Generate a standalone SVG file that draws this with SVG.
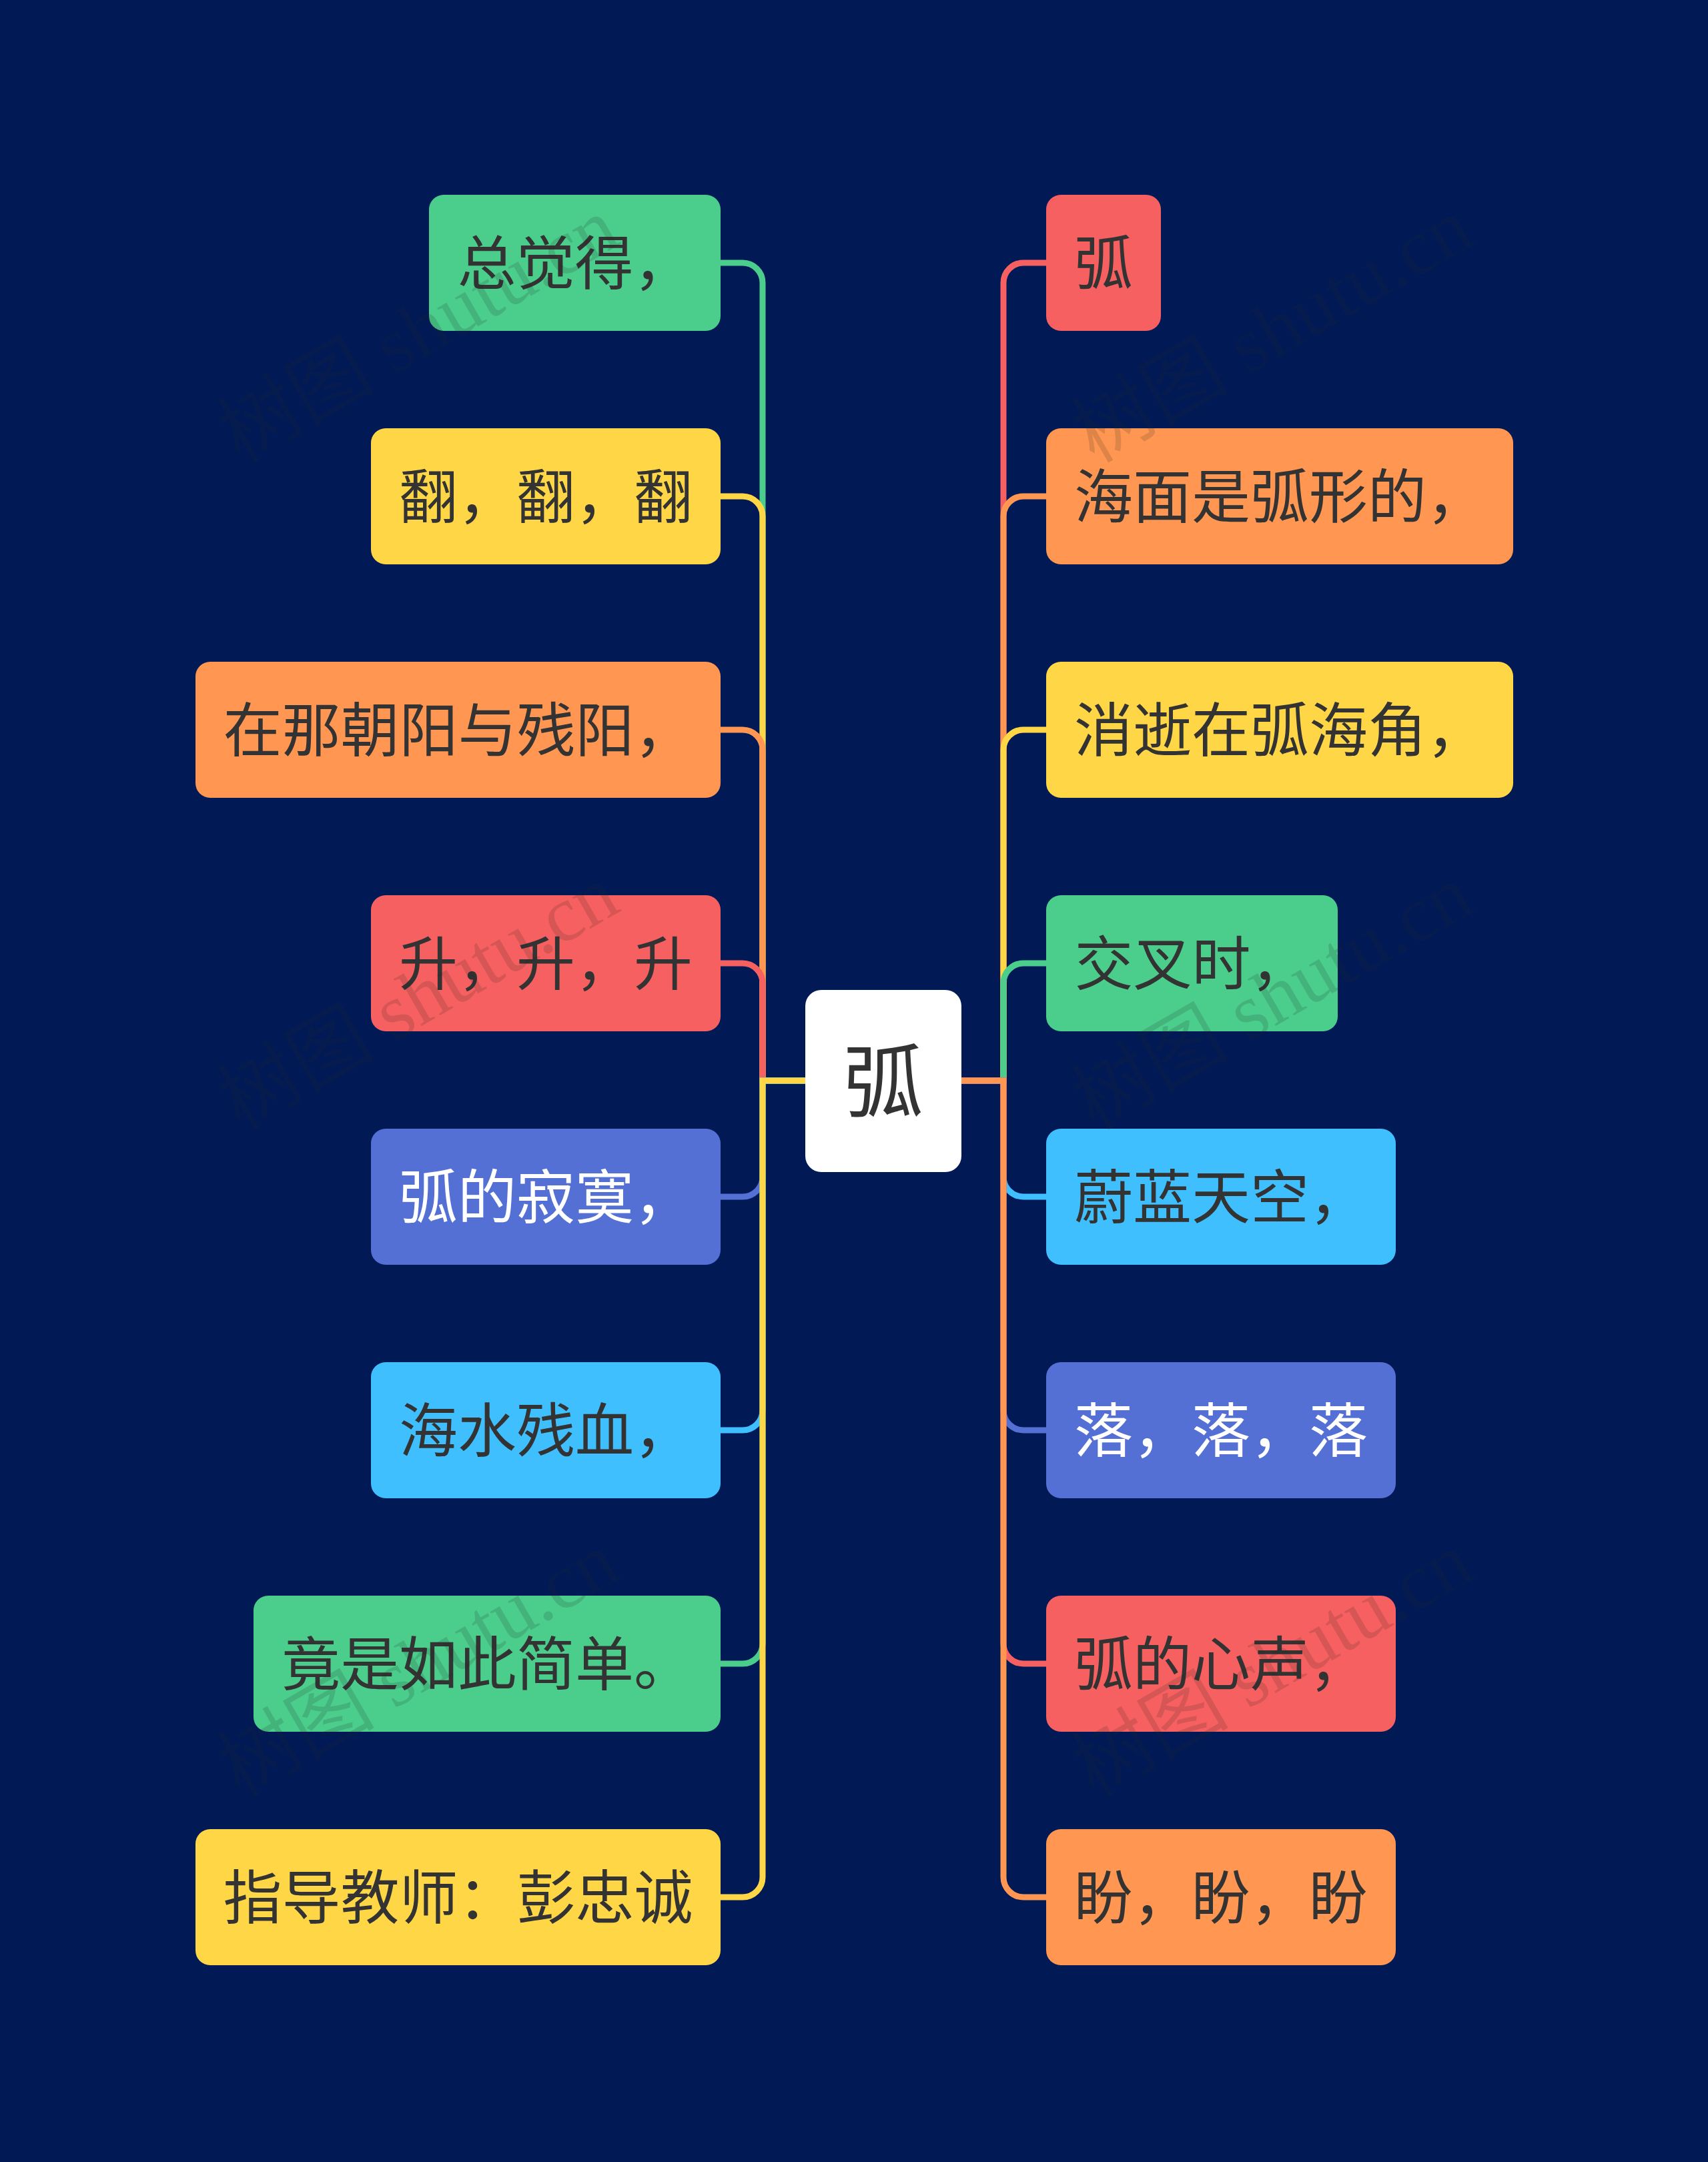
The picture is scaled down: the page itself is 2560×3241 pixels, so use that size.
<svg xmlns="http://www.w3.org/2000/svg" width="2560" height="3241" viewBox="0 0 2560 3241">
<style>
.c{fill:none;stroke-width:9;stroke-linejoin:miter;stroke-linecap:butt}
.t{font-family:"Noto Sans CJK SC","Noto Sans CJK JP",sans-serif;font-size:88px;fill:#333333;text-anchor:middle}
.w{fill:#ffffff}
.wm{font-family:"Liberation Serif","Noto Sans CJK SC",serif;font-size:118px;fill:#222222;opacity:0.15}
.gr{fill:#4BCE8C}.ye{fill:#FFD645}.or{fill:#FF9651}.re{fill:#F76060}.bl{fill:#5570D5}.lb{fill:#40BFFF}
.sgr{stroke:#4BCE8C}.sye{stroke:#FFD645}.sor{stroke:#FF9651}.sre{stroke:#F76060}.sbl{stroke:#5570D5}.slb{stroke:#40BFFF}
</style>
<rect x="0" y="0" width="2560" height="3241" fill="#011A56"/>
<g id="connectors">
<path class="c sgr" d="M1207 1620H1143V424A30 30 0 0 0 1113 394H1080"/>
<path class="c sye" d="M1207 1620H1143V774A30 30 0 0 0 1113 744H1080"/>
<path class="c sor" d="M1207 1620H1143V1124A30 30 0 0 0 1113 1094H1080"/>
<path class="c sre" d="M1207 1620H1143V1474A30 30 0 0 0 1113 1444H1080"/>
<path class="c sbl" d="M1207 1620H1143V1764A30 30 0 0 1 1113 1794H1080"/>
<path class="c slb" d="M1207 1620H1143V2114A30 30 0 0 1 1113 2144H1080"/>
<path class="c sgr" d="M1207 1620H1143V2464A30 30 0 0 1 1113 2494H1080"/>
<path class="c sye" d="M1207 1620H1143V2814A30 30 0 0 1 1113 2844H1080"/>
<path class="c sre" d="M1441 1620H1504V424A30 30 0 0 1 1534 394H1568"/>
<path class="c sor" d="M1441 1620H1504V774A30 30 0 0 1 1534 744H1568"/>
<path class="c sye" d="M1441 1620H1504V1124A30 30 0 0 1 1534 1094H1568"/>
<path class="c sgr" d="M1441 1620H1504V1474A30 30 0 0 1 1534 1444H1568"/>
<path class="c slb" d="M1441 1620H1504V1764A30 30 0 0 0 1534 1794H1568"/>
<path class="c sbl" d="M1441 1620H1504V2114A30 30 0 0 0 1534 2144H1568"/>
<path class="c sre" d="M1441 1620H1504V2464A30 30 0 0 0 1534 2494H1568"/>
<path class="c sor" d="M1441 1620H1504V2814A30 30 0 0 0 1534 2844H1568"/>
</g>
<g id="center">
<rect x="1207" y="1484" width="234" height="273" rx="24" fill="#ffffff"/>
<text class="t" x="1324" y="1666" style="font-size:120px">弧</text>
</g>
<g id="L1"><rect class="gr" x="643" y="292" width="437" height="204" rx="22"/><text class="t" x="861.5" y="426">总觉得，</text></g>
<g id="L2"><rect class="ye" x="556" y="642" width="524" height="204" rx="22"/><text class="t" x="818" y="776">翻，翻，翻</text></g>
<g id="L3"><rect class="or" x="293" y="992" width="787" height="204" rx="22"/><text class="t" x="686.5" y="1126">在那朝阳与残阳，</text></g>
<g id="L4"><rect class="re" x="556" y="1342" width="524" height="204" rx="22"/><text class="t" x="818" y="1476">升，升，升</text></g>
<g id="L5"><rect class="bl" x="556" y="1692" width="524" height="204" rx="22"/><text class="t w" x="818" y="1826">弧的寂寞，</text></g>
<g id="L6"><rect class="lb" x="556" y="2042" width="524" height="204" rx="22"/><text class="t" x="818" y="2176">海水残血，</text></g>
<g id="L7"><rect class="gr" x="380" y="2392" width="700" height="204" rx="22"/><text class="t" x="730" y="2526">竟是如此简单。</text></g>
<g id="L8"><rect class="ye" x="293" y="2742" width="787" height="204" rx="22"/><text class="t" x="686.5" y="2876">指导教师：彭忠诚</text></g>
<g id="R1"><rect class="re" x="1568" y="292" width="172" height="204" rx="22"/><text class="t" x="1654" y="426">弧</text></g>
<g id="R2"><rect class="or" x="1568" y="642" width="700" height="204" rx="22"/><text class="t" x="1918" y="776">海面是弧形的，</text></g>
<g id="R3"><rect class="ye" x="1568" y="992" width="700" height="204" rx="22"/><text class="t" x="1918" y="1126">消逝在弧海角，</text></g>
<g id="R4"><rect class="gr" x="1568" y="1342" width="437" height="204" rx="22"/><text class="t" x="1786.5" y="1476">交叉时，</text></g>
<g id="R5"><rect class="lb" x="1568" y="1692" width="524" height="204" rx="22"/><text class="t" x="1830" y="1826">蔚蓝天空，</text></g>
<g id="R6"><rect class="bl" x="1568" y="2042" width="524" height="204" rx="22"/><text class="t w" x="1830" y="2176">落，落，落</text></g>
<g id="R7"><rect class="re" x="1568" y="2392" width="524" height="204" rx="22"/><text class="t" x="1830" y="2526">弧的心声，</text></g>
<g id="R8"><rect class="or" x="1568" y="2742" width="524" height="204" rx="22"/><text class="t" x="1830" y="2876">盼，盼，盼</text></g>
<g id="watermark">
<text class="wm" x="360" y="695" transform="rotate(-30 360 695)">树图 shutu.cn</text>
<text class="wm" x="1640" y="695" transform="rotate(-30 1640 695)">树图 shutu.cn</text>
<text class="wm" x="360" y="1695" transform="rotate(-30 360 1695)">树图 shutu.cn</text>
<text class="wm" x="1640" y="1695" transform="rotate(-30 1640 1695)">树图 shutu.cn</text>
<text class="wm" x="360" y="2695" transform="rotate(-30 360 2695)">树图 shutu.cn</text>
<text class="wm" x="1640" y="2695" transform="rotate(-30 1640 2695)">树图 shutu.cn</text>
</g>
</svg>
